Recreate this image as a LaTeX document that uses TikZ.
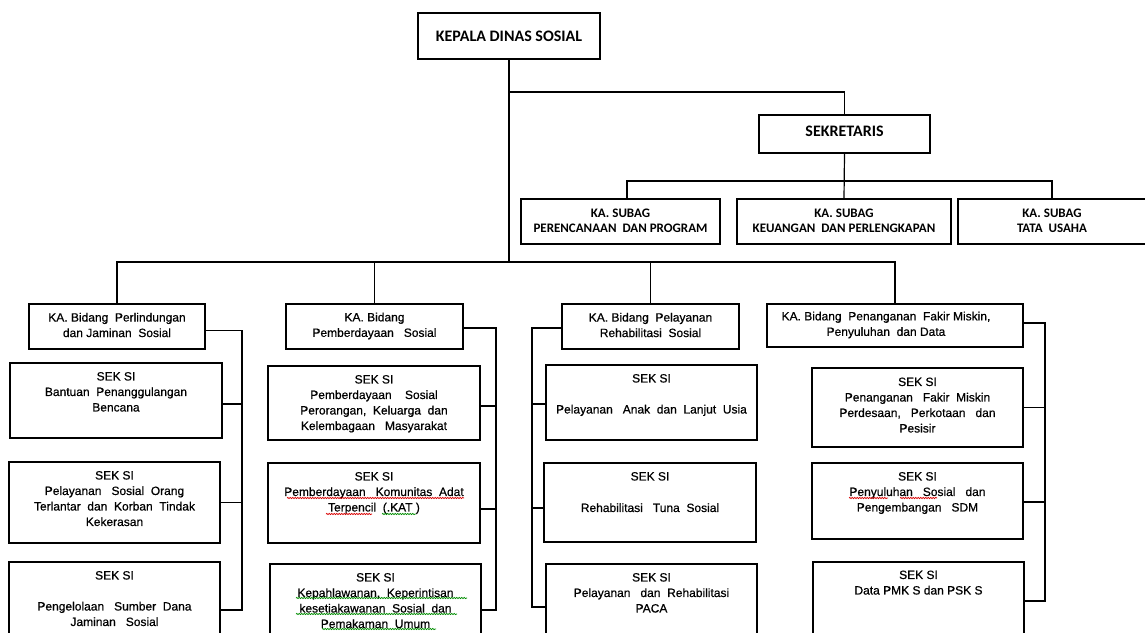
\documentclass[tikz,border=0pt]{standalone}
\usepackage{fontspec}
\setmainfont[FakeBold=0.6]{Liberation Sans}
\newfontfamily\calfont{Carlito}
\usetikzlibrary{decorations.pathmorphing}
\begin{document}
\begin{tikzpicture}[x=1pt,y=-1pt,
  box/.style={draw, line width=1.2pt, inner sep=0pt, fill=none},
  conn/.style={line width=1.2pt},
  lbl/.style={font=\fontsize{12}{15.5}\selectfont, align=center, inner sep=0pt, text=black},
  hdr/.style={font=\calfont\bfseries\fontsize{16}{17}\selectfont, align=center, inner sep=0pt, text=black},
  sub/.style={font=\calfont\bfseries\fontsize{13}{15}\selectfont, align=center, inner sep=0pt, text=black},
  redwave/.style={draw=red!85!black, line width=0.7pt, decorate, decoration={snake, amplitude=0.7pt, segment length=2.5pt}},
  greenwave/.style={draw=green!55!black, line width=0.7pt, decorate, decoration={snake, amplitude=0.7pt, segment length=2.5pt}}]
\useasboundingbox (0,0) rectangle (1145,632);
% top level
\node[box, minimum width=182pt, minimum height=46pt] (kep) at (509,36) {};
\node[hdr] (tkep) at (509,36) {KEPALA DINAS SOSIAL};
\node[box, minimum width=171pt, minimum height=38pt] (sek) at (844.5,134) {};
\node[hdr] (tsek) at (844.5,131) {SEKRETARIS};
% subag
\node[box, minimum width=199pt, minimum height=45pt] (sub1) at (620.5,221.5) {};
\node[box, minimum width=214pt, minimum height=45pt] (sub2) at (844,221.5) {};
\node[box, minimum width=192pt, minimum height=45pt] (sub3) at (1054,221.5) {};
\node[sub] (tsub1) at (620.5,220.5) {KA. SUBAG\\PERENCANAAN\ \ DAN PROGRAM};
\node[sub] (tsub2) at (844,220.5) {KA. SUBAG\\KEUANGAN\ \ DAN PERLENGKAPAN};
\node[sub] (tsub3) at (1052,220.5) {KA. SUBAG\\TATA\ \ USAHA};
% bidang
\node[box, minimum width=176pt, minimum height=45pt] (b1) at (117,326.5) {};
\node[box, minimum width=177pt, minimum height=45pt] (b2) at (374.5,326.5) {};
\node[box, minimum width=177pt, minimum height=45pt] (b3) at (650.5,326.5) {};
\node[box, minimum width=256pt, minimum height=43pt] (b4) at (895,325.5) {};
\node[lbl] (tb1) at (117,325) {KA. Bidang\ \ Perlindungan\\dan Jaminan\ \ Sosial};
\node[lbl] (tb2) at (374.5,326) {KA. Bidang\\Pemberdayaan\ \ \ Sosial};
\node[lbl] (tb3) at (650.5,325) {KA. Bidang\ \ Pelayanan\\Rehabilitasi\ \ Sosial};
\node[lbl] (tb4) at (886,325) {KA. Bidang\ \ Penanganan\ \ Fakir Miskin,\\Penyuluhan\ \ dan Data};
% seksi column 1
\node[box, minimum width=212pt, minimum height=75pt] (s11) at (116,400.5) {};
\node[box, minimum width=211pt, minimum height=81pt] (s12) at (114.5,502.5) {};
\node[box, minimum width=211pt, minimum height=88pt] (s13) at (114.5,606) {};
\node[lbl, anchor=north, yshift=-9.5pt] (t11) at (s11.north) {SEK SI\\Bantuan\ \ Penanggulangan\\Bencana};
\node[lbl, anchor=north, yshift=-9.5pt] (t12) at (s12.north) {SEK SI\\Pelayanan\ \ \ Sosial\ \ Orang\\Terlantar\ \ dan\ \ Korban\ \ Tindak\\Kekerasan};
\node[lbl, anchor=north, yshift=-9.5pt] (t13) at (s13.north) {SEK SI\\[15.5pt]Pengelolaan\ \ \ Sumber\ \ Dana\\Jaminan\ \ \ Sosial};
% seksi column 2
\node[box, minimum width=212pt, minimum height=74pt] (s21) at (374,403) {};
\node[box, minimum width=212pt, minimum height=80pt] (s22) at (374,503) {};
\node[box, minimum width=211pt, minimum height=86pt] (s23) at (375.5,607) {};
\node[lbl, anchor=north, yshift=-9.5pt] (t21) at (s21.north) {SEK SI\\Pemberdayaan\ \ \ \ Sosial\\Perorangan,\ \ Keluarga\ \ dan\\Kelembagaan\ \ \ Masyarakat};
\node[lbl, anchor=north, yshift=-9.5pt] (t22) at (s22.north) {SEK SI\\Pemberdayaan\ \ \ Komunitas\ \ Adat\\Terpencil\ \ (.KAT )};
\node[lbl, anchor=north, yshift=-9.5pt] (t23) at (s23.north) {SEK SI\\Kepahlawanan,\ \ Keperintisan\\kesetiakawanan\ \ Sosial\ \ dan\\Pemakaman\ \ Umum};
% seksi column 3
\node[box, minimum width=211pt, minimum height=75pt] (s31) at (651.5,402.5) {};
\node[box, minimum width=212pt, minimum height=79pt] (s32) at (650,502.5) {};
\node[box, minimum width=211pt, minimum height=86pt] (s33) at (651.5,607) {};
\node[lbl, anchor=north, yshift=-9.5pt] (t31) at (s31.north) {SEK SI\\[15.5pt]Pelayanan\ \ \ Anak\ \ dan\ \ Lanjut\ \ Usia};
\node[lbl, anchor=north, yshift=-9.5pt] (t32) at (s32.north) {SEK SI\\[16pt]Rehabilitasi\ \ \ Tuna\ \ Sosial};
\node[lbl, anchor=north, yshift=-9.5pt] (t33) at (s33.north) {SEK SI\\Pelayanan\ \ \ dan\ \ Rehabilitasi\\PACA};
% seksi column 4
\node[box, minimum width=211pt, minimum height=79pt] (s41) at (917.5,407.5) {};
\node[box, minimum width=211pt, minimum height=76pt] (s42) at (917.5,501) {};
\node[box, minimum width=211pt, minimum height=88pt] (s43) at (918.5,606) {};
\node[lbl, anchor=north, yshift=-10pt] (t41) at (s41.north) {SEK SI\\Penanganan\ \ \ Fakir\ \ Miskin\\Perdesaan,\ \ \ Perkotaan\ \ \ dan\\Pesisir};
\node[lbl, anchor=north, yshift=-9.5pt] (t42) at (s42.north) {SEK SI\\Penyuluhan\ \ \ Sosial\ \ \ dan\\Pengembangan\ \ \ SDM};
\node[lbl, anchor=north, yshift=-9pt] (t43) at (s43.north) {SEK SI\\Data PMK S dan PSK S};
% spell-check underlines
\draw[redwave] (287,498) -- (464,498);
\draw[redwave] (326,514) -- (372,514);
\draw[greenwave] (382,514) -- (416,514);
\draw[greenwave] (296,598) -- (467,598);
\draw[greenwave] (296,614) -- (457,614);
\draw[greenwave] (322,629) -- (436,629);
\draw[redwave] (849,498) -- (888,498);
\draw[redwave] (900,498) -- (937,498);
% connectors: top
\coordinate (bus) at (509,262);
\coordinate (sbus) at (844,181);
\draw[conn] (kep.south) -- (bus);
\draw[conn] (kep.south |- 0,92) -| (sek.north);
\draw[conn] (b1.north) |- (bus) -| (b4.north);
\draw[conn] (b2.north) -- (b2.north |- bus);
\draw[conn] (b3.north) -- (b3.north |- bus);
\draw[conn] (sek.south) -- (sub2.north);
\draw[conn] ([xshift=6.5pt]sub1.north) |- (sbus) -| ([xshift=-2pt]sub3.north);
% column 1
\coordinate (v1) at (242,0);
\draw[conn] ([yshift=-4pt]b1.east) -| ([yshift=-4pt]v1 |- s13.east) -- ([yshift=-4pt]s13.east);
\draw[conn] ([yshift=-3.5pt]s11.east) -- ([yshift=-3.5pt]v1 |- s11.east);
\draw[conn] (s12.east) -- (v1 |- s12.east);
% column 2
\coordinate (v2) at (496,0);
\draw[conn] ([yshift=-1.5pt]b2.east) -| ([yshift=-3pt]v2 |- s23.east) -- ([yshift=-3pt]s23.east);
\draw[conn] ([yshift=-3pt]s21.east) -- ([yshift=-3pt]v2 |- s21.east);
\draw[conn] ([yshift=-6pt]s22.east) -- ([yshift=-6pt]v2 |- s22.east);
% column 3
\coordinate (v3) at (532,0);
\draw[conn] ([yshift=-1.5pt]b3.west) -| (v3 |- s33.west) -- (s33.west);
\draw[conn] ([yshift=-1.5pt]s31.west) -- ([yshift=-1.5pt]v3 |- s31.west);
\draw[conn] ([yshift=-5.5pt]s32.west) -- ([yshift=-5.5pt]v3 |- s32.west);
% column 4
\coordinate (v4) at (1045,0);
\draw[conn] ([yshift=2.5pt]b4.east) -| ([yshift=5pt]v4 |- s43.east) -- ([yshift=5pt]s43.east);
\draw[conn] (s41.east) -- (v4 |- s41.east);
\draw[conn] ([yshift=-1pt]s42.east) -- ([yshift=-1pt]v4 |- s42.east);
\end{tikzpicture}
\end{document}
